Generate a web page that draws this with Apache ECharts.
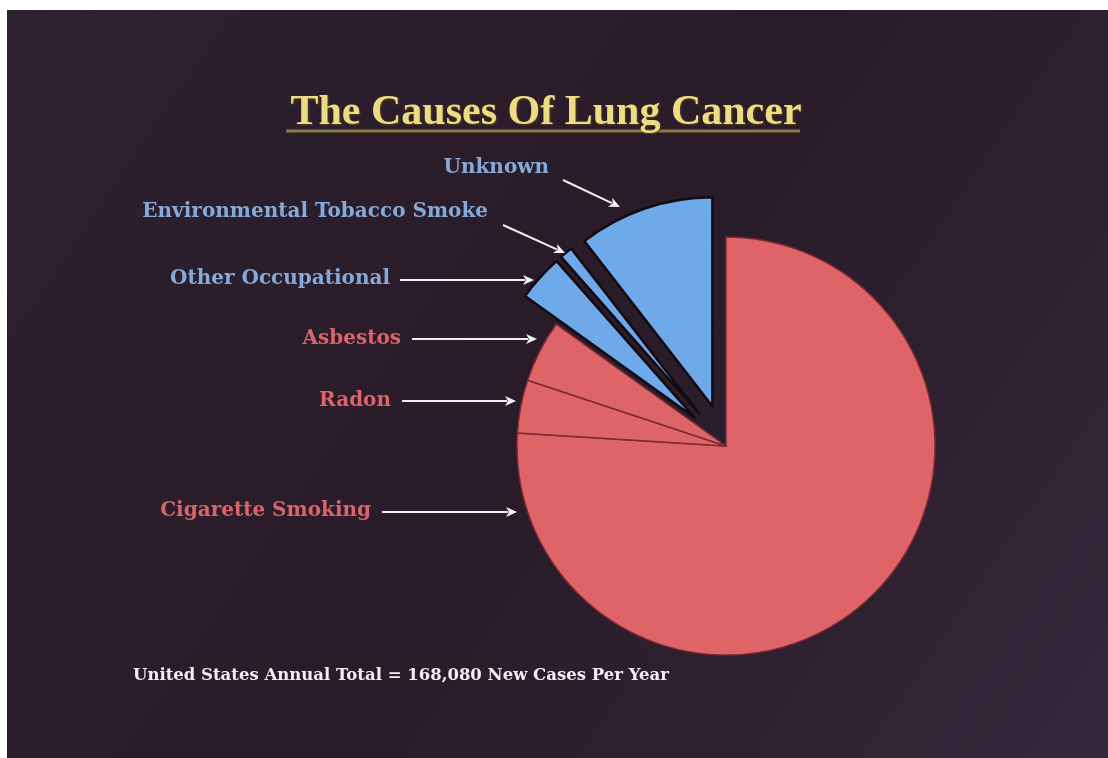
<!DOCTYPE html>
<html>
<head>
<meta charset="utf-8">
<script src="https://cdn.jsdelivr.net/npm/echarts@6/dist/echarts.min.js"></script>
<style>
html,body{margin:0;padding:0;background:#ffffff;}
#chart{width:1108px;height:758px;}
</style>
</head>
<body>
<div id="chart"></div>
<script>
// ---- data ----
var categories = ['Cigarette Smoking', 'Radon', 'Asbestos', 'Other Occupational', 'Environmental Tobacco Smoke', 'Unknown'];
var shares = [76.0, 4.1, 4.8, 3.6, 1.0, 10.5];   // percent of cases
var exploded = [false, false, false, true, true, true];
var titleText = 'The Causes Of Lung Cancer';
var footText = 'United States Annual Total = 168,080 New Cases Per Year';

// ---- styling / layout ----
var RED = '#df6468', BLUE = '#6eaaea';
var RED_TXT = '#d9646a', BLUE_TXT = '#86aad8';
var sliceColors = [RED, RED, RED, BLUE, BLUE, BLUE];
var labelColors = [RED_TXT, RED_TXT, RED_TXT, BLUE_TXT, BLUE_TXT, BLUE_TXT];
// label anchor (right edge, middle) and arrow [start, tip]
var labelAnchors = [[371, 511], [391, 401], [401, 339], [390, 279], [488, 212], [549, 168]];
var arrows = [
  [[382, 512], [517, 512]],
  [[402, 401], [516, 401]],
  [[412, 339], [537, 339]],
  [[400, 280], [534, 280]],
  [[503, 225], [565, 253]],
  [[563, 180], [620, 207]]
];
var LABEL_FONT = 'bold 20px "DejaVu Serif"';

var chart = echarts.init(document.getElementById('chart'), null, {renderer: 'canvas'});

var data = categories.map(function (c, i) {
  return {
    name: c,
    value: shares[i],
    selected: exploded[i],
    itemStyle: {
      color: sliceColors[i],
      borderColor: exploded[i] ? '#140b12' : '#7a2a34',
      borderWidth: exploded[i] ? 2.5 : 1.5
    }
  };
});

var graphics = [
  {type: 'rect', z: -10, silent: true, shape: {x: 7, y: 10, width: 1101, height: 748},
   style: {fill: new echarts.graphic.LinearGradient(0, 0, 1, 1, [
     {offset: 0, color: '#2d2130'}, {offset: 0.5, color: '#2a1b28'}, {offset: 1, color: '#35263a'}])}},
  {type: 'line', silent: true, shape: {x1: 286, y1: 131, x2: 800, y2: 131},
   style: {stroke: '#8a7a44', lineWidth: 3}}
];
categories.forEach(function (c, i) {
  var a = labelAnchors[i];
  graphics.push({type: 'text', silent: true, z: 20,
    style: {text: c, x: a[0], y: a[1], align: 'right', verticalAlign: 'middle',
      textAlign: 'right', textVerticalAlign: 'middle',
      font: LABEL_FONT, fill: labelColors[i]}});
});
arrows.forEach(function (a) {
  var s = a[0], t = a[1];
  var dx = t[0] - s[0], dy = t[1] - s[1];
  var L = Math.sqrt(dx * dx + dy * dy);
  var ux = dx / L, uy = dy / L;
  var hl = 11, hw = 5;
  var bx = t[0] - ux * hl, by = t[1] - uy * hl;
  graphics.push({type: 'line', silent: true, z: 20,
    shape: {x1: s[0], y1: s[1], x2: bx + ux * 2, y2: by + uy * 2},
    style: {stroke: '#f0eef0', lineWidth: 2}});
  graphics.push({type: 'polygon', silent: true, z: 20,
    shape: {points: [[t[0], t[1]], [bx - uy * hw, by + ux * hw], [bx + ux * 3, by + uy * 3], [bx + uy * hw, by - ux * hw]]},
    style: {fill: '#f4f2f4'}});
});

var option = {
  backgroundColor: '#ffffff',
  animation: false,
  title: [{
    text: titleText,
    left: 541, top: 87, textAlign: 'center',
    textStyle: {fontFamily: 'Liberation Serif', fontWeight: 'bold', fontSize: 42, color: '#eedc84',
      textShadowColor: 'rgba(90,70,20,0.8)', textShadowBlur: 2, textShadowOffsetX: 1, textShadowOffsetY: 1}
  }, {
    text: footText,
    left: 128, top: 662,
    textStyle: {fontFamily: 'DejaVu Serif', fontWeight: 'bold', fontSize: 16.5, color: '#f2eff2'}
  }],
  graphic: graphics,
  series: [{
    type: 'pie',
    center: [726, 446],
    radius: [0, 209],
    startAngle: 90,
    clockwise: true,
    selectedMode: 'multiple',
    selectedOffset: 42,
    silent: true,
    emphasis: {disabled: true},
    label: {show: false},
    labelLine: {show: false},
    data: data
  }]
};
chart.setOption(option);
</script>
</body>
</html>
